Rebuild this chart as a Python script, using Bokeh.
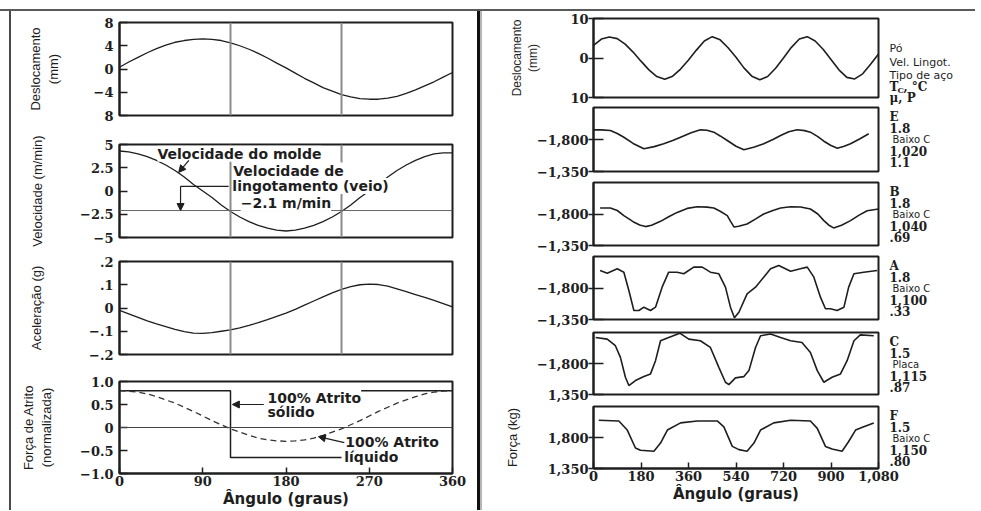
from bokeh.plotting import figure
from bokeh.layouts import column, row
from bokeh.models import Range1d, FixedTicker, Label, Arrow, NormalHead, Span, Spacer
from bokeh.core.properties import value
from bokeh.embed import file_html
from bokeh.resources import INLINE

# ---------------- data: left (one cycle) ----------------
ang_left = [0, 10, 20, 30, 40, 50, 60, 70, 80, 90, 100, 110, 120, 130, 140, 150, 160, 170, 180,
            190, 200, 210, 220, 230, 240, 250, 260, 270, 280, 290, 300, 310, 320, 330, 340, 350, 360]
disp_left = [0.3, 1.2, 2.0, 2.8, 3.5, 4.1, 4.6, 4.9, 5.1, 5.2, 5.1, 4.9, 4.5, 4.0, 3.4, 2.7, 1.9, 1.0, 0.2,
             -0.7, -1.6, -2.4, -3.2, -3.8, -4.4, -4.8, -5.1, -5.2, -5.2, -5.0, -4.7, -4.2, -3.6, -2.9, -2.2, -1.4, -0.6]
vel_left = [4.3, 4.2, 4.0, 3.7, 3.3, 2.8, 2.2, 1.5, 0.7, 0.0, -0.7, -1.5, -2.2, -2.8, -3.3, -3.7, -4.0, -4.2, -4.3,
            -4.2, -4.0, -3.7, -3.3, -2.8, -2.2, -1.5, -0.7, 0.0, 0.7, 1.5, 2.2, 2.8, 3.3, 3.7, 4.0, 4.1, 4.1]
acc_left = [-0.010, -0.025, -0.040, -0.055, -0.068, -0.080, -0.092, -0.102, -0.108, -0.109, -0.106, -0.100, -0.094,
            -0.085, -0.075, -0.063, -0.050, -0.036, -0.022, -0.006, 0.012, 0.030, 0.048, 0.065, 0.080, 0.092,
            0.100, 0.103, 0.101, 0.094, 0.082, 0.070, 0.058, 0.046, 0.033, 0.019, 0.005]
liquid_left = [0.80, 0.79, 0.77, 0.73, 0.67, 0.60, 0.53, 0.44, 0.35, 0.25, 0.15, 0.06, -0.03, -0.10, -0.17, -0.23,
               -0.27, -0.29, -0.30, -0.29, -0.27, -0.23, -0.17, -0.10, -0.03, 0.06, 0.15, 0.25, 0.35, 0.44, 0.53,
               0.60, 0.67, 0.73, 0.77, 0.79, 0.80]
solid_ang = [[0, 120, 120, 240], [240, 360]]
solid_val = [[0.8, 0.8, -0.65, -0.65], [0.8, 0.8]]
phase_marks = [120, 240]
casting_speed = -2.1

left_ticks_x = [0, 90, 180, 270, 360]
disp_ticks = [-8, -4, 0, 4, 8]
disp_labels = ["8", "\u22124", "0", "4", "8"]
vel_ticks = [-5, -2.5, 0, 2.5, 5]
vel_labels = ["\u22125", "\u22122.5", "0", "2.5", "5"]
acc_ticks = [-0.2, -0.1, 0, 0.1, 0.2]
acc_labels = ["\u2212.2", "\u2212.1", "0", ".1", ".2"]
fr_ticks = [-1.0, -0.5, 0, 0.5, 1.0]
fr_labels = ["\u22121.0", "\u22120.5", "0", "0.5", "1.0"]

# ---------------- data: right (three cycles) ----------------
ang_disp_right = [0, 30, 60, 90, 120, 150, 180, 210, 240, 270, 300, 330, 360, 390, 420, 450, 480, 510, 540,
                  570, 600, 630, 660, 690, 720, 750, 780, 810, 840, 870, 900, 930, 960, 990, 1020, 1050, 1080]
disp_right = [3.2, 4.8, 5.3, 4.9, 3.5, 1.5, -0.8, -3.0, -4.7, -5.4, -4.6, -2.8, -0.5, 2.0, 4.3, 5.4, 4.6, 2.6, 0.2,
              -2.5, -4.6, -5.5, -4.7, -2.6, 0.0, 2.7, 4.8, 5.4, 4.3, 2.2, -0.4, -3.0, -4.9, -5.3, -4.0, -1.6, 1.0]

E_ang = [0, 30, 64, 90, 115, 150, 191, 230, 266, 300, 330, 370, 405, 430, 456, 480, 507, 540, 570, 610, 645, 680,
         709, 740, 772, 800, 822, 850, 873, 900, 924, 950, 974, 1010, 1043]
E_val = [1936, 1936, 1927, 1885, 1832, 1745, 1669, 1700, 1740, 1785, 1832, 1895, 1936, 1930, 1903, 1850, 1786, 1705,
         1655, 1695, 1740, 1800, 1856, 1910, 1936, 1925, 1903, 1840, 1776, 1715, 1678, 1705, 1740, 1810, 1880]
B_ang = [25, 64, 90, 115, 150, 175, 197, 220, 254, 285, 317, 355, 393, 430, 456, 480, 507, 520, 532, 550, 582, 615,
         645, 680, 709, 747, 785, 822, 850, 873, 892, 910, 940, 974, 1005, 1037, 1080]
B_val = [1885, 1885, 1850, 1776, 1690, 1643, 1620, 1640, 1695, 1760, 1823, 1880, 1904, 1898, 1885, 1840, 1776, 1690,
         1615, 1625, 1658, 1730, 1800, 1850, 1885, 1904, 1900, 1871, 1800, 1705, 1640, 1601, 1640, 1705, 1780, 1847,
         1871]
A_ang = [25, 52, 90, 115, 134, 153, 172, 191, 216, 235, 260, 285, 317, 342, 380, 412, 443, 475, 500, 519, 534, 551,
         582, 614, 645, 671, 702, 747, 784, 810, 835, 860, 879, 898, 923, 949, 967, 987, 1024, 1075]
A_val = [2050, 2012, 2074, 2026, 1764, 1479, 1479, 1526, 1479, 1526, 1812, 2026, 2026, 2003, 2098, 2098, 2026, 2003,
         1812, 1526, 1374, 1454, 1717, 1812, 1955, 2074, 2122, 2040, 2074, 2098, 1955, 1669, 1503, 1503, 1479, 1526,
         1812, 2003, 2026, 2050]
C_ang = [8, 52, 83, 102, 121, 134, 159, 191, 216, 235, 254, 285, 327, 361, 405, 443, 475, 500, 513, 538, 570, 589,
         614, 633, 671, 709, 747, 790, 822, 848, 873, 904, 936, 961, 987, 1011, 1062]
C_val = [2177, 2154, 2058, 1889, 1600, 1480, 1552, 1610, 1649, 1841, 2130, 2177, 2240, 2154, 2130, 2033, 1744, 1528,
         1494, 1591, 1610, 1697, 2033, 2202, 2227, 2177, 2130, 2105, 1961, 1697, 1528, 1600, 1649, 1841, 2130, 2216,
         2202]
F_ang = [20, 96, 128, 159, 178, 229, 254, 280, 330, 393, 469, 494, 526, 551, 582, 608, 633, 683, 747, 822, 848, 879,
         904, 942, 967, 993, 1024, 1062]
F_val = [2050, 2040, 1908, 1648, 1614, 1600, 1719, 1908, 2012, 2040, 2040, 1955, 1671, 1624, 1600, 1719, 1908, 2012,
         2050, 2040, 1932, 1671, 1634, 1600, 1742, 1908, 1955, 2012]

right_ticks_x = [0, 180, 360, 540, 720, 900, 1080]
right_labels_x = ["0", "180", "360", "540", "720", "900", "1,080"]
force_ticks = [1350, 1800]
force_tick_labels = {
    "E": ["\u22121,350", "\u22121,800"],
    "B": ["\u22121,350", "\u22121,800"],
    "A": ["\u22121,350", "\u22121,800"],
    "C": ["1,350", "\u22121,800"],
    "F": ["1,350", "1,800"],
}
case_codes = ["E", "B", "A", "C", "F"]
case_speed = ["1.8", "1.8", "1.8", "1.5", "1.5"]
case_steel = ["Baixo C", "Baixo C", "Baixo C", "Placa", "Baixo C"]
case_temp = ["1,020", "1,040", "1,100", "1,115", "1,150"]
case_visc = ["1.1", ".69", ".33", ".87", ".80"]
header_rows = ["P\u00f3", "Vel. Lingot.", "Tipo de a\u00e7o"]

# ---------------- styling ----------------
INK = "#1e1e1e"
SERIF = "DejaVu Serif"
SANS = "DejaVu Sans"
TITLE_FONT = "Liberation Sans"


def base_fig(w, h, xr, yr, mbl, mbr, mbt, mbb):
    p = figure(width=w, height=h, x_range=Range1d(*xr), y_range=Range1d(*yr),
               output_backend="svg", toolbar_location=None,
               min_border_left=mbl, min_border_right=mbr,
               min_border_top=mbt, min_border_bottom=mbb)
    p.grid.visible = False
    p.outline_line_color = INK
    p.outline_line_width = 2
    p.outline_line_alpha = 1
    p.background_fill_color = "white"
    p.border_fill_color = "white"
    p.xaxis.visible = False
    ya = p.yaxis[0]
    ya.axis_line_color = INK
    ya.axis_line_width = 2
    ya.major_tick_line_color = INK
    ya.major_tick_line_width = 1.5
    ya.minor_tick_line_color = None
    ya.major_label_text_font = SERIF
    ya.major_label_text_font_style = "bold"
    ya.major_label_text_font_size = "13px"
    ya.major_label_text_color = INK
    ya.axis_label_text_font = TITLE_FONT
    ya.axis_label_text_font_style = "normal"
    ya.axis_label_text_font_size = "13px"
    ya.axis_label_text_color = INK
    return p


def set_y(p, ticks, labels, title, standoff, tin, tout, lstand, tsize="13px"):
    ya = p.yaxis[0]
    ya.ticker = FixedTicker(ticks=ticks)
    ya.major_label_overrides = dict(zip(ticks, labels))
    ya.major_tick_in = tin
    ya.major_tick_out = tout
    ya.major_label_standoff = lstand
    if title:
        ya.axis_label = title
        ya.axis_label_standoff = standoff
        ya.axis_label_text_font_size = tsize


def set_x(p, ticks, labels):
    xa = p.xaxis[0]
    xa.visible = True
    xa.ticker = FixedTicker(ticks=ticks)
    xa.major_label_overrides = dict(zip(ticks, labels))
    xa.axis_line_color = INK
    xa.axis_line_width = 2
    xa.major_tick_line_color = INK
    xa.major_tick_line_width = 1.5
    xa.minor_tick_line_color = None
    xa.major_tick_in = 6
    xa.major_tick_out = 0
    xa.major_label_standoff = 2
    xa.major_label_text_font = SERIF
    xa.major_label_text_font_style = "bold"
    xa.major_label_text_font_size = "13px"
    xa.major_label_text_color = INK
    xa.axis_label = "\u00c2ngulo (graus)"
    xa.axis_label_standoff = 1
    xa.axis_label_text_font = SANS
    xa.axis_label_text_font_style = "bold"
    xa.axis_label_text_font_size = "15px"
    xa.axis_label_text_color = INK


def add_marks(p):
    for m in phase_marks:
        p.add_layout(Span(location=m, dimension="height", line_color="#8c8c8c", line_width=2))


def note(p, x, y, text, size="14px"):
    p.add_layout(Label(x=x, y=y, text=text, text_font=SANS, text_font_style="bold",
                       text_font_size=size, text_color=INK, text_baseline="middle",
                       text_align="left", background_fill_color="white"))


def arrow(p, xs, ys, xe, ye):
    p.add_layout(Arrow(end=NormalHead(size=7, fill_color=INK, line_color=INK),
                       x_start=xs, y_start=ys, x_end=xe, y_end=ye,
                       line_color=INK, line_width=1.2))


LW, LML, LMR = 466, 108, 25

# Left panel 1: displacement
l1 = base_fig(LW, 118, (0, 360), (-8, 8), LML, LMR, 11, 14)
set_y(l1, disp_ticks, disp_labels, "Deslocamento\n(mm)", 30, 8, 0, 6)
add_marks(l1)
l1.line(ang_left, disp_left, line_color=INK, line_width=1.3)

# Left panel 2: velocity
l2 = base_fig(LW, 120, (0, 360), (-5, 5), LML, LMR, 15, 12)
set_y(l2, vel_ticks, vel_labels, "Velocidade (m/min)", 32, 8, 0, 6)
add_marks(l2)
l2.add_layout(Span(location=casting_speed, dimension="width", line_color="#666666", line_width=1))
l2.line(ang_left, vel_left, line_color=INK, line_width=1.3)
note(l2, 41, 4.0, "Velocidade do molde")
note(l2, 123, 2.2, "Velocidade de")
note(l2, 122, 0.55, "lingotamento (veio)")
note(l2, 131, -1.3, "\u22122.1 m/min")
arrow(l2, 75, 3.3, 64, 2.0)
l2.line([118, 66], [0.5, 0.5], line_color=INK, line_width=1.2)
arrow(l2, 66, 0.5, 66, casting_speed)

# Left panel 3: acceleration
l3 = base_fig(LW, 118, (0, 360), (-0.2, 0.2), LML, LMR, 12, 13)
set_y(l3, acc_ticks, acc_labels, "Acelera\u00e7\u00e3o (g)", 42, 8, 0, 6)
add_marks(l3)
l3.line(ang_left, acc_left, line_color=INK, line_width=1.3)

# Left panel 4: friction force
l4 = base_fig(LW, 143, (0, 360), (-1, 1), LML, LMR, 14, 36)
set_y(l4, fr_ticks, fr_labels, "For\u00e7a de Atrito\n(normalizada)", 23, 8, 0, 6)
set_x(l4, left_ticks_x, [str(t) for t in left_ticks_x])
l4.add_layout(Span(location=0, dimension="width", line_color="#444444", line_width=1))
l4.multi_line(solid_ang, solid_val, line_color=INK, line_width=1.5)
l4.line(ang_left, liquid_left, line_color="#333333", line_width=1.3, line_dash="6 4")
note(l4, 160, 0.65, "100% Atrito")
note(l4, 160, 0.33, "s\u00f3lido")
note(l4, 244, -0.31, "100% Atrito")
note(l4, 243, -0.64, "l\u00edquido")
arrow(l4, 156, 0.5, 122, 0.5)
arrow(l4, 243, -0.33, 215, -0.2)

left_col = column(l1, l2, l3, l4)

# ---------------- right column ----------------
PAD = 30                      # extra right border so that the last tick label fits
RML = 111
RW = RML + 285 + 1 + PAD
SIDE_W = 96
XR = (0, 1080)


def side_fig(h):
    s = figure(width=SIDE_W, height=h, x_range=Range1d(0, SIDE_W), y_range=Range1d(h, 0),
               output_backend="svg", toolbar_location=None,
               x_axis_location=None, y_axis_location=None,
               min_border_left=0, min_border_right=0, min_border_top=0, min_border_bottom=0,
               margin=(0, 0, 0, -PAD), frame_align=False)
    s.grid.visible = False
    s.outline_line_color = None
    s.background_fill_alpha = 0
    s.border_fill_alpha = 0
    return s


def side_text(s, xs, ys, texts, font, style, size):
    s.text(x=xs, y=ys, text=texts, text_font=value(font), text_font_style=style,
           text_font_size=size, text_color=INK, text_baseline="middle", text_align="left")


rows = []

# displacement panel
h1, mt1, mb1 = 94, 7, 8
r1 = base_fig(RW, h1, XR, (-10, 10), RML, 1 + PAD, mt1, mb1)
set_y(r1, [-10, 0, 10], ["10", "0", "10"], "Deslocamento\n(mm)", 27, 10, 5, 0, tsize="12px")
r1.line(ang_disp_right, disp_right, line_color=INK, line_width=1.6)
s1 = side_fig(h1)
side_text(s1, [10, 10, 10], [mt1 + 30, mt1 + 44, mt1 + 57], header_rows, SANS, "normal", "11px")
side_text(s1, [10], [mt1 + 68], ["T"], SERIF, "bold", "12px")
side_text(s1, [18], [mt1 + 71], ["C"], SERIF, "bold", "8px")
side_text(s1, [24], [mt1 + 68], [", \u00b0C"], SERIF, "bold", "12px")
side_text(s1, [10], [mt1 + 79], ["\u03bc, P"], SERIF, "bold", "12px")
rows.append(row(r1, s1))

force_series = {"E": (E_ang, E_val), "B": (B_ang, B_val), "A": (A_ang, A_val),
                "C": (C_ang, C_val), "F": (F_ang, F_val)}
geom = {"E": (74, 2, 8), "B": (74, 3, 8), "A": (74, 3, 8), "C": (75, 5, 8), "F": (103, 4, 36)}

for i, code in enumerate(case_codes):
    h, mt, mb = geom[code]
    p = base_fig(RW, h, XR, (1350, 2250), RML, 1 + PAD, mt, mb)
    set_y(p, force_ticks, force_tick_labels[code], "For\u00e7a (kg)" if code == "F" else None, 25, 10, 5, 0)
    xs, ys = force_series[code]
    p.line(xs, ys, line_color=INK, line_width=1.6)
    if code == "F":
        set_x(p, right_ticks_x, right_labels_x)
    s = side_fig(h)
    side_text(s, [10, 10], [mt + 9, mt + 20], [case_codes[i], case_speed[i]], SERIF, "bold", "12px")
    side_text(s, [13], [mt + 32], [case_steel[i]], SANS, "normal", "10px")
    side_text(s, [10, 10], [mt + 43, mt + 54], [case_temp[i], case_visc[i]], SERIF, "bold", "12px")
    rows.append(row(p, s))

right_col = column(*rows)

top_pad = Spacer(width=975, height=9)
top_rule = Spacer(width=975, height=2, styles={"background-color": "#5a5a5a"})
left_pad = Spacer(width=9, height=499)
left_rule = Spacer(width=2, height=499, styles={"background-color": "#4a4a4a"})
divider = Spacer(width=3, height=499, styles={"background-color": "#111111"})
gap_rule = Spacer(width=2, height=499, styles={"background-color": "#b5b5b5"})

layout = column(top_pad, top_rule, row(left_pad, left_rule, left_col, divider, gap_rule, right_col))

open("out.html", "w").write(file_html(layout, INLINE))
